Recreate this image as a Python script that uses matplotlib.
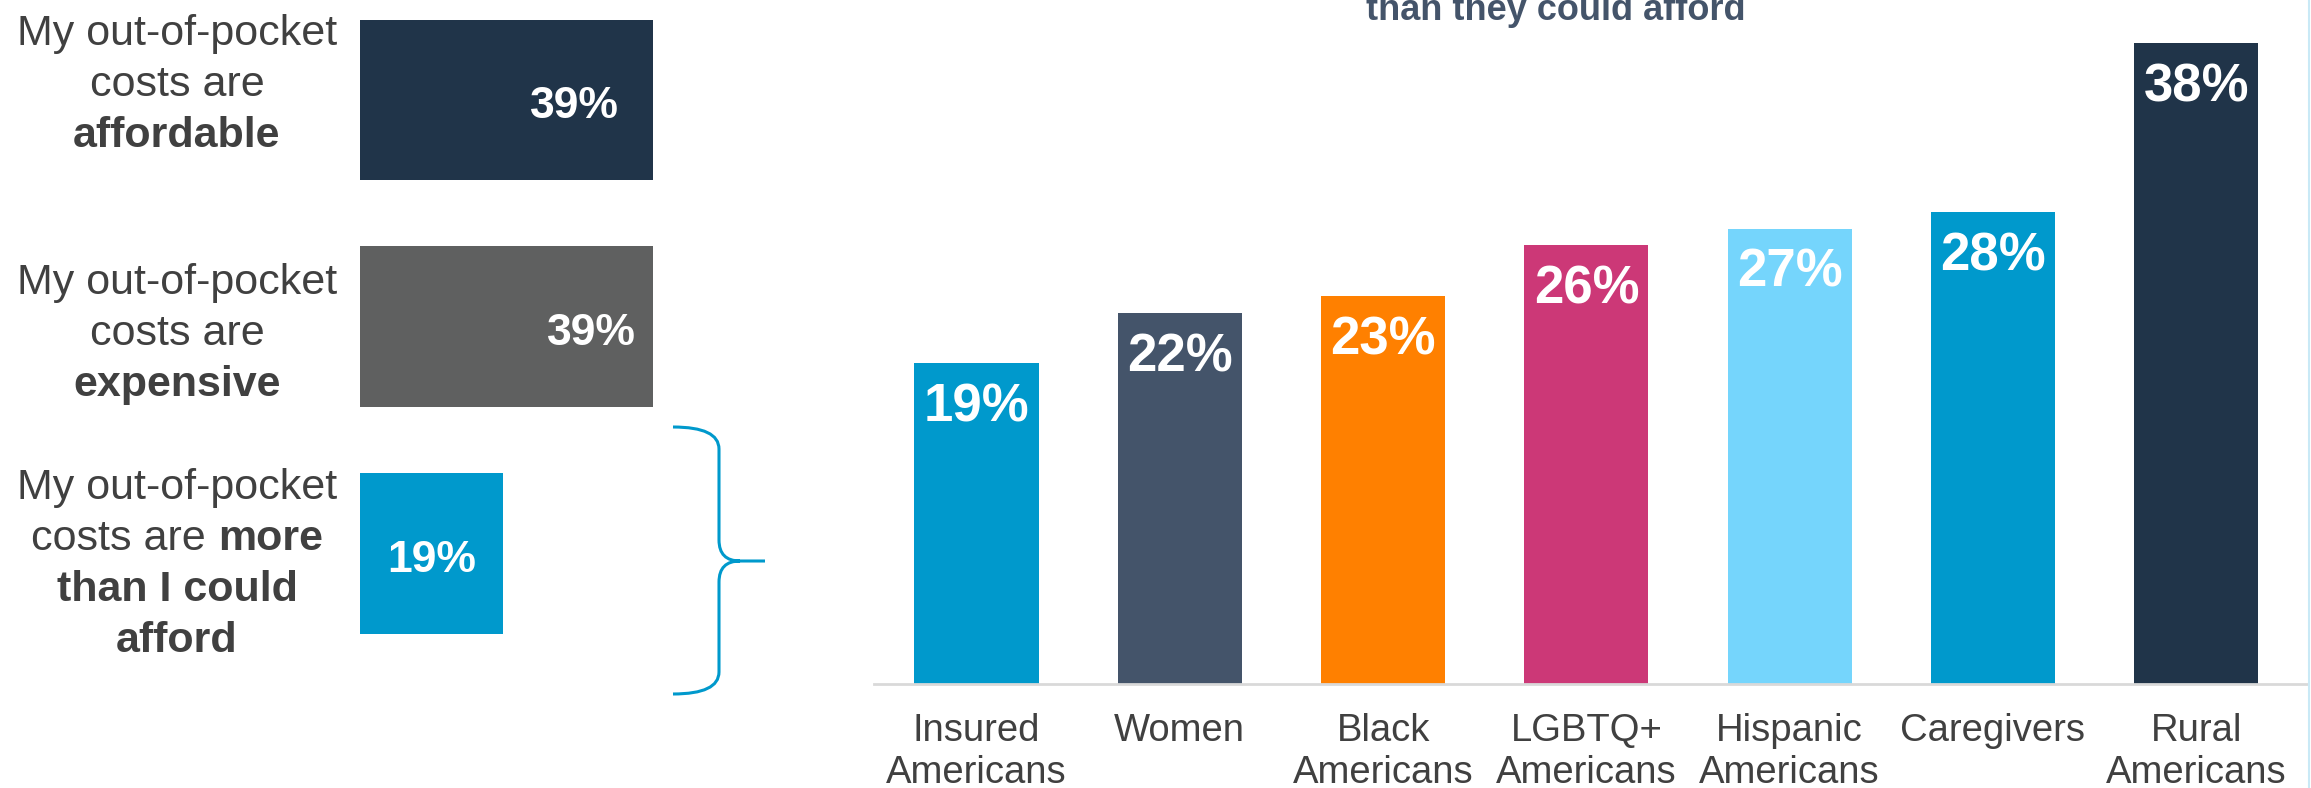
import numpy as np
import matplotlib.pyplot as plt
from matplotlib.path import Path
from matplotlib.patches import PathPatch
from matplotlib.lines import Line2D

plt.rcParams['font.family'] = ['Liberation Sans', 'DejaVu Sans']

W, H = 2311, 788

# left panel: overall answers
cost_values = [39, 39, 19]
cost_colors = ['#203449', '#5F6060', '#0099CC']
cost_lines = [
    [[('My out-of-pocket', False)], [('costs are', False)], [('affordable', True)]],
    [[('My out-of-pocket', False)], [('costs are', False)], [('expensive', True)]],
    [[('My out-of-pocket', False)], [('costs are', False), ('more', True)],
     [('than I could', True)], [('afford', True)]],
]
cost_first_baseline = [45, 294, 499]  # px from top
label_back = [10.4, 8.2, None]  # how far in from bar end the % sits (None = centred)

# right panel: "more than they could afford" by group
groups = ['Insured\nAmericans', 'Women', 'Black\nAmericans', 'LGBTQ+\nAmericans',
          'Hispanic\nAmericans', 'Caregivers', 'Rural\nAmericans']
group_values = [19, 22, 23, 26, 27, 28, 38]
group_colors = ['#0099CC', '#44546A', '#FF8000', '#CC3877', '#75D5FC', '#0099CC', '#203449']

title = 'than they could afford'
text_color = '#404040'


def fx(px):
    return px / W


def fy(py):
    return 1 - py / H


fig = plt.figure(figsize=(W / 100, H / 100), dpi=100)

# left bars
axl = fig.add_axes([fx(360), 0, fx(338), 1])
yl = np.arange(len(cost_values))
axl.barh(yl, cost_values, height=0.71, color=cost_colors)
axl.set_xlim(0, 338 / 7.51)
axl.set_ylim((788 - 100) / 226.75, -100 / 226.75)
axl.axis('off')
for i, v in enumerate(cost_values):
    xpos = v / 2 if label_back[i] is None else v - label_back[i]
    axl.text(xpos, i + 0.03, f'{v}%', ha='center', va='center', color='white',
             weight='bold', fontsize=32)

# left text labels, line by line (mixed bold)
renderer = fig.canvas.get_renderer()
for lines, base in zip(cost_lines, cost_first_baseline):
    for k, line in enumerate(lines):
        y = base + k * 51
        pieces = [fig.text(0, fy(y), s, weight='bold' if b else 'normal', fontsize=31,
                           color=text_color, va='baseline', ha='left') for s, b in line]
        widths = [p.get_window_extent(renderer).width for p in pieces]
        gap = 12
        total = sum(widths) + gap * (len(pieces) - 1)
        x0 = 177 - total / 2
        for p, w in zip(pieces, widths):
            p.set_x(fx(x0))
            x0 += w + gap

# right bars
axr = fig.add_axes([fx(874), fy(684), fx(2308 - 874), 684 / H])
x = np.arange(len(groups))
axr.bar(x, group_values, width=0.61, color=group_colors)
axr.set_xlim(-(976.5 - 874) / 203.3, (2308 - 976.5) / 203.3)
axr.set_ylim(0, 684 / 16.87)
for s in ['top', 'right', 'left']:
    axr.spines[s].set_visible(False)
axr.spines['bottom'].set_color('#D9D9D9')
axr.spines['bottom'].set_linewidth(2)
axr.set_yticks([])
axr.set_xticks(x, groups)
axr.tick_params(axis='x', length=0, pad=21, labelsize=27.5, labelcolor=text_color)
for i, v in enumerate(group_values):
    axr.annotate(f'{v}%', (i, v), xytext=(0, -32), textcoords='offset points',
                 ha='center', va='center', color='white', weight='bold', fontsize=38)

fig.text(fx(1556), fy(20), title, ha='center', va='baseline', weight='bold',
         fontsize=26, color='#44546A')

# curly brace linking the 19% bar to the right chart
verts = [(673, 427), (719, 427), (719, 449), (719, 540), (719, 561), (740, 561), (765, 561),
         (740, 561), (719, 561), (719, 582), (719, 672), (719, 694), (673, 694)]
codes = [Path.MOVETO, Path.CURVE3, Path.CURVE3, Path.LINETO, Path.CURVE3, Path.CURVE3, Path.LINETO,
         Path.MOVETO, Path.CURVE3, Path.CURVE3, Path.LINETO, Path.CURVE3, Path.CURVE3]
verts = [(fx(a), fy(b)) for a, b in verts]
fig.add_artist(PathPatch(Path(verts, codes), transform=fig.transFigure, fill=False,
                         edgecolor='#0099CC', lw=2.2))

# faint edge line on the right
fig.add_artist(Line2D([fx(2309), fx(2309)], [0, 1], transform=fig.transFigure,
                      color='#C9E9F6', lw=1.5))

fig.savefig('out.png', dpi=100)
